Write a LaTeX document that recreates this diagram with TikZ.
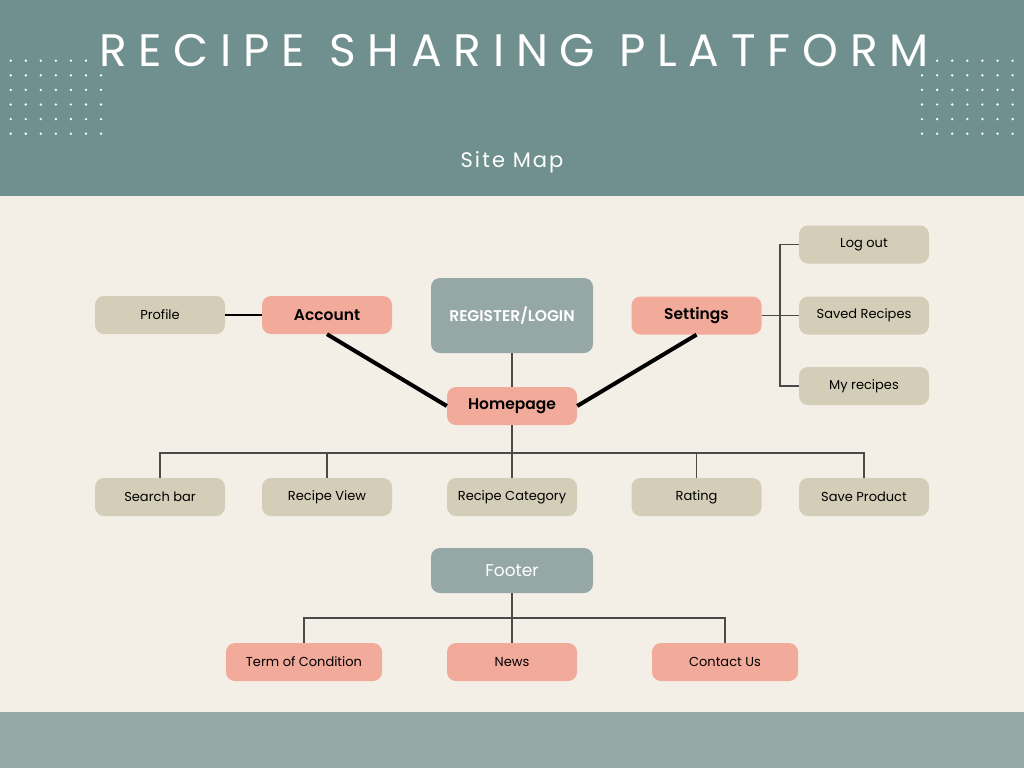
\documentclass[tikz,border=0pt]{standalone}
\usepackage{fontspec}
\setmainfont{Poppins}[BoldFont={Poppins SemiBold}]
\newfontfamily\titlefont[LetterSpace=26]{Poppins}
\newfontfamily\subfont[LetterSpace=10]{Poppins}
\definecolor{headbg}{HTML}{6F908E}
\definecolor{bodybg}{HTML}{F3EFE7}
\definecolor{footbg}{HTML}{95A8A6}
\definecolor{tan}{HTML}{D4CDB7}
\definecolor{salmon}{HTML}{F2AA9A}
\definecolor{slate}{HTML}{95A8A6}
\definecolor{linegray}{HTML}{4A4A48}
\tikzset{
  box/.style={rounded corners=9pt, inner sep=0pt, minimum width=130pt, minimum height=38pt, align=center},
  tanbox/.style={box, fill=tan, text=black, font=\fontsize{13}{15}\selectfont},
  salbox/.style={box, fill=salmon, text=black, font=\bfseries\fontsize{15.5}{18}\selectfont},
  salsmall/.style={box, fill=salmon, text=black, font=\fontsize{13}{15}\selectfont},
  slatebox/.style={box, fill=slate, text=white, minimum width=162pt},
  conn/.style={draw=linegray, line width=1.4pt},
  thick conn/.style={draw=black, line width=4pt}
}
\begin{document}
\begin{tikzpicture}[x=1pt,y=-1pt]
\useasboundingbox (0,0) rectangle (1024,768);
\fill[bodybg] (0,0) rectangle (1024,768);
\fill[headbg] (0,0) rectangle (1024,196);
\fill[footbg] (0,712) rectangle (1024,768);
% dot grids
\foreach \r in {0,...,5}{
  \foreach \c in {0,...,6}{
    \ifnum\r=0 \ifnum\c=6 \else \fill[white] ({10.7+15.05*\c},{60.7+14.6*\r}) circle (1.3pt); \fi
    \else \fill[white] ({10.7+15.05*\c},{60.7+14.6*\r}) circle (1.3pt); \fi
    \ifnum\r=0 \ifnum\c=0 \else \fill[white] ({922+15.1*\c},{60.7+14.6*\r}) circle (1.3pt); \fi
    \else \fill[white] ({922+15.1*\c},{60.7+14.6*\r}) circle (1.3pt); \fi
  }
}
\node[text=white, font=\titlefont\fontsize{45.5}{48}\selectfont, inner sep=0pt] (title) at (514,50.5) {RECIPE SHARING PLATFORM};
\node[text=white, font=\subfont\fontsize{21}{23}\selectfont, inner sep=0pt] (sub) at (512,162) {Site Map};

% nodes
\node[tanbox] (profile) at (160,315) {Profile};
\node[salbox] (account) at (327,315) {Account};
\node[slatebox, minimum height=75pt, font=\bfseries\fontsize{15.5}{18}\selectfont] (reg) at (512,315.5) {REGISTER/LOGIN};
\node[salbox] (settings) at (696.5,315.5) {Settings};
\node[tanbox] (logout) at (864,244.5) {Log out};
\node[tanbox] (saved) at (864,315.5) {Saved Recipes};
\node[tanbox] (myrec) at (864,386) {My recipes};
\node[salbox] (home) at (512,406) {Homepage};

\node[tanbox] (search) at (160,497) {Search bar};
\node[tanbox] (view) at (327,497) {Recipe View};
\node[tanbox] (cat) at (512,497) {Recipe Category};
\node[tanbox] (rating) at (696.5,497) {Rating};
\node[tanbox] (savep) at (864,497) {Save Product};

\node[slatebox, minimum height=45pt, font=\fontsize{17}{20}\selectfont] (footer) at (512,570.5) {Footer};
\node[salsmall, minimum width=156pt] (term) at (304,662) {Term of Condition};
\node[salsmall] (news) at (512,662) {News};
\node[salsmall, minimum width=146pt] (contact) at (725,662) {Contact Us};

% connectors
\coordinate (bus) at (0,453);
\coordinate (fbus) at (0,618);
\coordinate (sx) at (780,0);

\draw[draw=black, line width=1.4pt] (profile.east) -- (account.west);
\draw[thick conn] (account.south) -- (home.west);
\draw[thick conn] (settings.south) -- (home.east);
\draw[conn] (reg.south) -- (home.north);
\draw[conn] (settings.east) -- (saved.west);
\draw[conn] (logout.west) -- (logout.west -| sx) -- (myrec.west -| sx) -- (myrec.west);

\draw[conn] (home.south) -- (cat.north);
\draw[conn] (search.north) -- (search.north |- bus) -- (savep.north |- bus) -- (savep.north);
\draw[conn] (view.north) -- (view.north |- bus);
\draw[conn] (rating.north) -- (rating.north |- bus);

\draw[conn] (footer.south) -- (news.north);
\draw[conn] (term.north) -- (term.north |- fbus) -- (contact.north |- fbus) -- (contact.north);
\end{tikzpicture}
\end{document}
